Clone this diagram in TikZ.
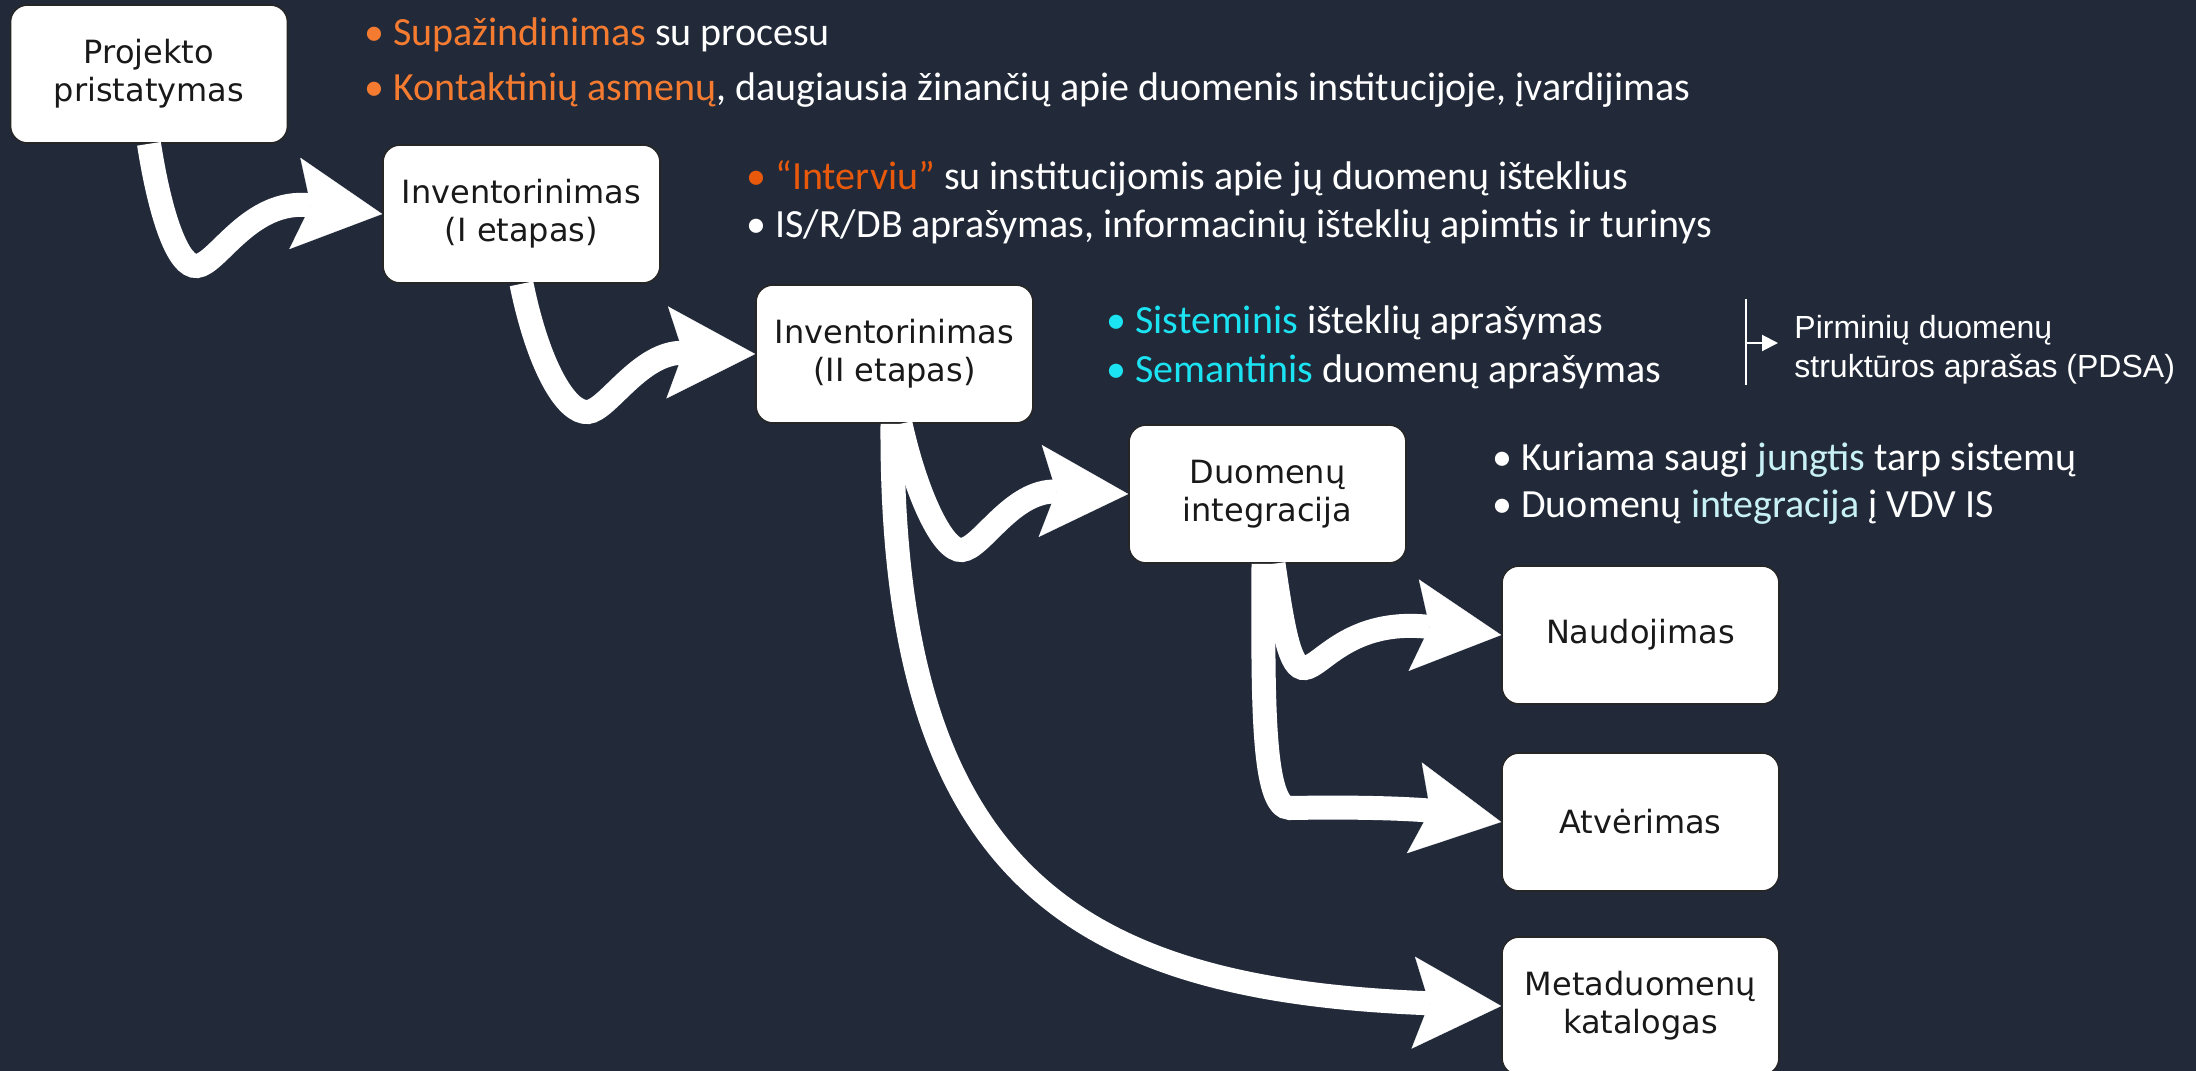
\documentclass[tikz,border=0pt]{standalone}
\usepackage{fontspec}
\setmainfont{Carlito}
\newfontfamily\boxfont{DejaVu Sans}
\newfontfamily\pdsafont{Liberation Sans}
\usetikzlibrary{arrows.meta,calc}
\definecolor{bg}{HTML}{222A3A}
\definecolor{orA}{HTML}{F47B30}
\definecolor{orB}{HTML}{E8590C}
\definecolor{cyA}{HTML}{1BE3F2}
\definecolor{cyB}{HTML}{C8F1F7}
\begin{document}
\begin{tikzpicture}[x=0.5pt,y=-0.5pt,
  stage/.style={draw=black!85, line width=0.8pt, fill=white, rounded corners=8.5pt,
    minimum width=138.5pt, minimum height=69pt, align=center, inner sep=0pt,
    font=\boxfont\fontsize{16}{19}\selectfont, text=black!90},
  flow/.style={draw=white, line width=12pt,
    -{Stealth[length=44pt,width=46pt,inset=8pt,line width=0.1pt]}},
  bul/.style={anchor=base west, text=white, inner sep=0pt,
    font=\fontsize{20}{24}\selectfont},
  pdsa/.style={anchor=base west, text=white, inner sep=0pt,
    font=\pdsafont\fontsize{16}{19}\selectfont},
]
\fill[bg] (0,0) rectangle (2196,1071);
\useasboundingbox (0,0) rectangle (2196,1071);
\begin{scope}
\clip (0,0) rectangle (2196,1071);
% boxes
\node[stage] (b1) at (149,74) {Projekto\\pristatymas};
\node[stage] (b2) at (521.5,214) {Inventorinimas\\(I etapas)};
\node[stage] (b3) at (894.5,354) {Inventorinimas\\(II etapas)};
\node[stage] (b4) at (1267.5,494) {Duomenų\\integracija};
\node[stage] (b5) at (1640.5,635) {Naudojimas};
\node[stage] (b6) at (1640.5,822) {Atvėrimas};
\node[stage] (b7) at (1640.5,1006) {Metaduomenų\\katalogas};

% arrows
\coordinate (m1) at (197,266);
\draw[flow] (b1.south) .. controls (160,215) and (178,268) .. (m1)
  .. controls (218,264) and (250,198) .. (b2.west);
\coordinate (m2) at (588,412);
\draw[flow] (b2.south) .. controls (538,365) and (566,414) .. (m2)
  .. controls (608,410) and (640,352) .. (b3.west);
\coordinate (m3) at (962,550);
\draw[flow] ($(b3.south)+(6,0)$) .. controls (915,490) and (942,552) .. (m3)
  .. controls (982,548) and (1012,490) .. (b4.west);
\draw[flow] ($(b3.south)+(-2,0)$) .. controls (890,880) and (1080,990) .. (b7.west);
\coordinate (m4) at (1305,668);
\draw[flow] ($(b4.south)+(6,0)$) .. controls (1283,630) and (1290,670) .. (m4)
  .. controls (1322,666) and (1350,618) .. (b5.west);
\coordinate (m5) at (1290,808);
\draw[flow] ($(b4.south)+(-4,0)$) .. controls (1263,700) and (1262,808) .. (m5)
  .. controls (1400,806) and (1440,812) .. (b6.west);

% bullet texts
\node[bul] (g1a) at (364,45) {\textcolor{orA}{• Supažindinimas} su procesu};
\node[bul] (g1b) at (364,100) {\textcolor{orA}{• Kontaktinių asmenų}, daugiausia žinančių apie duomenis institucijoje, įvardijimas};
\node[bul] (g2a) at (746,189) {\textcolor{orB}{• “Interviu”} su institucijomis apie jų duomenų išteklius};
\node[bul] (g2b) at (746,237) {• IS/R/DB aprašymas, informacinių išteklių apimtis ir turinys};
\node[bul] (g3a) at (1106,333) {\textcolor{cyA}{• Sisteminis} išteklių aprašymas};
\node[bul] (g3b) at (1106,382) {\textcolor{cyA}{• Semantinis} duomenų aprašymas};
\node[bul] (g4a) at (1492,470) {• Kuriama saugi \textcolor{cyB}{jungtis} tarp sistemų};
\node[bul] (g4b) at (1492,517) {• Duomenų \textcolor{cyB}{integracija} į VDV IS};

% PDSA
\coordinate (pt) at (1746,299);
\coordinate (pb) at (1746,385);
\coordinate (pm) at (1746,343);
\coordinate (pa) at (1778,343);
\draw[white, line width=1pt] (pt) -- (pb);
\draw[white, line width=1pt, -{Triangle[length=8pt,width=8pt]}] (pm) -- (pa);
\node[pdsa] (pd1) at (1794,338) {Pirminių duomenų};
\node[pdsa] (pd2) at (1794,377) {struktūros aprašas (PDSA)};
\end{scope}
\end{tikzpicture}
\end{document}
